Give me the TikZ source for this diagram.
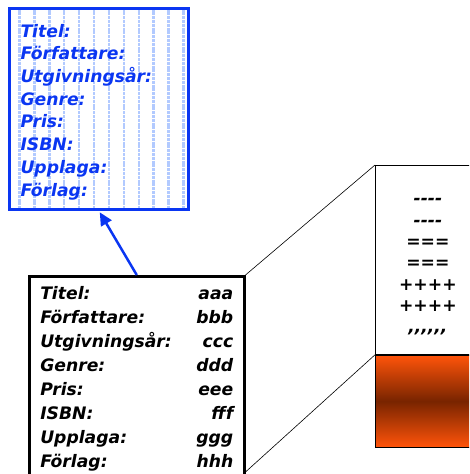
\documentclass[tikz,border=0pt]{standalone}
\usepackage{fontspec}
\setmainfont{DejaVu Sans}
\usetikzlibrary{positioning, arrows.meta, shapes, fit}

\definecolor{postblue}{HTML}{0A36F2}
\definecolor{stripeblue}{HTML}{B2CAFF}
\definecolor{heaporange}{HTML}{FF540A}
\definecolor{heapbrown}{HTML}{782400}

\begin{document}
\begin{tikzpicture}[
        x=1pt, y=-1pt,
        every node/.style={inner sep=0pt},
        fieldfont/.style={font=\fontsize{17.2}{#1}\selectfont\bfseries\itshape},
        stripe/.style={stripeblue, line width=2.4pt, dash pattern=on 3pt off 0.8pt},
        template/.style={draw=postblue, line width=3pt, fill=white, text=postblue, align=left, text width=157pt, inner xsep=11pt, minimum height=201pt, fieldfont=22.7},
        record/.style={draw=black, line width=2.5pt, fill=white, inner xsep=11pt, minimum height=204pt, fieldfont=24},
        file/.style={draw=black, line width=0.8pt, fill=white, minimum width=105pt, fieldfont=21.3}
    ]
    
    \useasboundingbox (0,0) rectangle (469,474);
    \clip (0,0) rectangle (469,474);
    
    % Mall för en post (blå ruta)
    \node[template, anchor=north west, path picture={
            \foreach \i in {0,...,11}
                \draw[stripe] ([xshift=10pt+14.9*\i pt]path picture bounding box.north west) -- ([xshift=10pt+14.9*\i pt]path picture bounding box.south west);
        }] (mall) at (8,7) {\rule{0pt}{19pt}Titel:\\Författare:\\Utgivningsår:\\Genre:\\Pris:\\ISBN:\\Upplaga:\\Förlag:};
    
    % Posten med värden
    \node[record, anchor=north west] (post) at (28,275) {%
        \begin{tabular*}{193pt}{@{}l@{\extracolsep{\fill}}r@{}}
            Titel: & aaa\\
            Författare: & bbb\\
            Utgivningsår: & ccc\\
            Genre: & ddd\\
            Pris: & eee\\
            ISBN: & fff\\
            Upplaga: & ggg\\
            Förlag: & hhh
        \end{tabular*}};
    
    % Filen
    \node[file, anchor=north west, minimum height=189pt] (fil) at (375,165) {%
        \begin{tabular}{@{}c@{}}
            \rule{0pt}{24pt}{-}{-}{-}{-}\\{-}{-}{-}{-}\\===\\===\\++++\\++++\\{,}{,}{,}{,}{,}{,}
        \end{tabular}};
    \node[file, anchor=north west, minimum height=92pt, top color=heaporange, bottom color=heaporange, middle color=heapbrown] (block) at (fil.south west) {};
    
    % Förbindelser
    \coordinate (postbot) at (post.east |- 0,472);
    \draw[postblue, line width=2.5pt, -{Triangle[length=13pt, width=12pt]}, shorten >=1.5pt] (post.north) -- (mall.south);
    \draw[black, line width=0.6pt] (post.north east) -- (fil.north west);
    \draw[black, line width=0.6pt] (postbot) -- (block.north west);
    
\end{tikzpicture}
\end{document}
